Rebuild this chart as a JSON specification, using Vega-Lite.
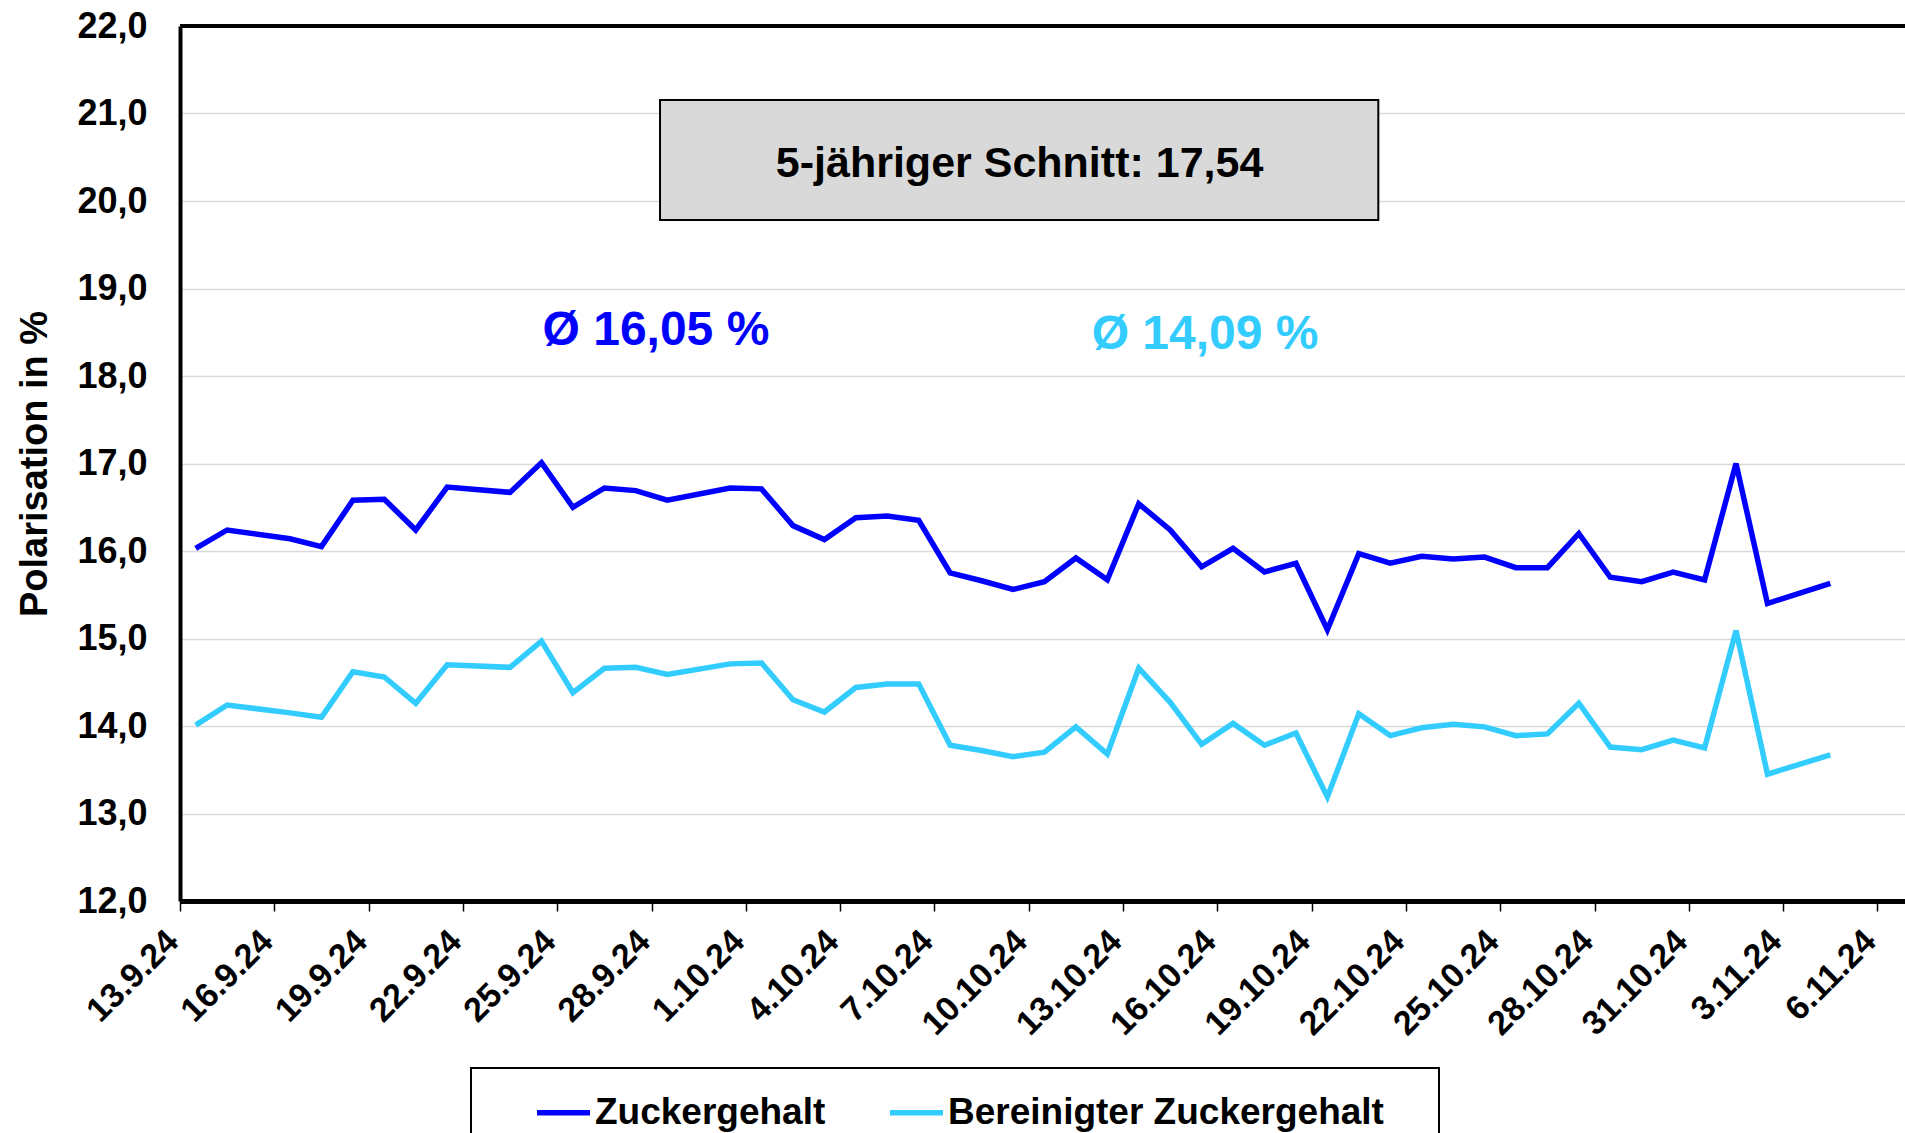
{
  "$schema": "https://vega.github.io/schema/vega-lite/v6.json",
  "autosize": {"type": "none"},
  "padding": {"left": 180, "top": 26, "right": 0, "bottom": 232},
  "width": 1725,
  "height": 875,
  "background": "white",
  "datasets": {
    "polarisation": [
      {"Datum": "2024-09-13", "Reihe": "Zuckergehalt", "Wert": 16.03},
      {"Datum": "2024-09-14", "Reihe": "Zuckergehalt", "Wert": 16.24},
      {"Datum": "2024-09-16", "Reihe": "Zuckergehalt", "Wert": 16.14},
      {"Datum": "2024-09-17", "Reihe": "Zuckergehalt", "Wert": 16.05},
      {"Datum": "2024-09-18", "Reihe": "Zuckergehalt", "Wert": 16.58},
      {"Datum": "2024-09-19", "Reihe": "Zuckergehalt", "Wert": 16.59},
      {"Datum": "2024-09-20", "Reihe": "Zuckergehalt", "Wert": 16.24},
      {"Datum": "2024-09-21", "Reihe": "Zuckergehalt", "Wert": 16.73},
      {"Datum": "2024-09-23", "Reihe": "Zuckergehalt", "Wert": 16.67},
      {"Datum": "2024-09-24", "Reihe": "Zuckergehalt", "Wert": 17.01},
      {"Datum": "2024-09-25", "Reihe": "Zuckergehalt", "Wert": 16.50},
      {"Datum": "2024-09-26", "Reihe": "Zuckergehalt", "Wert": 16.72},
      {"Datum": "2024-09-27", "Reihe": "Zuckergehalt", "Wert": 16.69},
      {"Datum": "2024-09-28", "Reihe": "Zuckergehalt", "Wert": 16.58},
      {"Datum": "2024-09-30", "Reihe": "Zuckergehalt", "Wert": 16.72},
      {"Datum": "2024-10-01", "Reihe": "Zuckergehalt", "Wert": 16.71},
      {"Datum": "2024-10-02", "Reihe": "Zuckergehalt", "Wert": 16.29},
      {"Datum": "2024-10-03", "Reihe": "Zuckergehalt", "Wert": 16.13},
      {"Datum": "2024-10-04", "Reihe": "Zuckergehalt", "Wert": 16.38},
      {"Datum": "2024-10-05", "Reihe": "Zuckergehalt", "Wert": 16.40},
      {"Datum": "2024-10-06", "Reihe": "Zuckergehalt", "Wert": 16.35},
      {"Datum": "2024-10-07", "Reihe": "Zuckergehalt", "Wert": 15.75},
      {"Datum": "2024-10-08", "Reihe": "Zuckergehalt", "Wert": 15.66},
      {"Datum": "2024-10-09", "Reihe": "Zuckergehalt", "Wert": 15.56},
      {"Datum": "2024-10-10", "Reihe": "Zuckergehalt", "Wert": 15.65},
      {"Datum": "2024-10-11", "Reihe": "Zuckergehalt", "Wert": 15.92},
      {"Datum": "2024-10-12", "Reihe": "Zuckergehalt", "Wert": 15.67},
      {"Datum": "2024-10-13", "Reihe": "Zuckergehalt", "Wert": 16.54},
      {"Datum": "2024-10-14", "Reihe": "Zuckergehalt", "Wert": 16.24},
      {"Datum": "2024-10-15", "Reihe": "Zuckergehalt", "Wert": 15.82},
      {"Datum": "2024-10-16", "Reihe": "Zuckergehalt", "Wert": 16.03},
      {"Datum": "2024-10-17", "Reihe": "Zuckergehalt", "Wert": 15.76},
      {"Datum": "2024-10-18", "Reihe": "Zuckergehalt", "Wert": 15.86},
      {"Datum": "2024-10-19", "Reihe": "Zuckergehalt", "Wert": 15.10},
      {"Datum": "2024-10-20", "Reihe": "Zuckergehalt", "Wert": 15.97},
      {"Datum": "2024-10-21", "Reihe": "Zuckergehalt", "Wert": 15.86},
      {"Datum": "2024-10-22", "Reihe": "Zuckergehalt", "Wert": 15.94},
      {"Datum": "2024-10-23", "Reihe": "Zuckergehalt", "Wert": 15.91},
      {"Datum": "2024-10-24", "Reihe": "Zuckergehalt", "Wert": 15.93},
      {"Datum": "2024-10-25", "Reihe": "Zuckergehalt", "Wert": 15.81},
      {"Datum": "2024-10-26", "Reihe": "Zuckergehalt", "Wert": 15.81},
      {"Datum": "2024-10-27", "Reihe": "Zuckergehalt", "Wert": 16.20},
      {"Datum": "2024-10-28", "Reihe": "Zuckergehalt", "Wert": 15.70},
      {"Datum": "2024-10-29", "Reihe": "Zuckergehalt", "Wert": 15.65},
      {"Datum": "2024-10-30", "Reihe": "Zuckergehalt", "Wert": 15.76},
      {"Datum": "2024-10-31", "Reihe": "Zuckergehalt", "Wert": 15.67},
      {"Datum": "2024-11-01", "Reihe": "Zuckergehalt", "Wert": 17.00},
      {"Datum": "2024-11-02", "Reihe": "Zuckergehalt", "Wert": 15.40},
      {"Datum": "2024-11-04", "Reihe": "Zuckergehalt", "Wert": 15.63},
      {"Datum": "2024-09-13", "Reihe": "Bereinigter Zuckergehalt", "Wert": 14.01},
      {"Datum": "2024-09-14", "Reihe": "Bereinigter Zuckergehalt", "Wert": 14.24},
      {"Datum": "2024-09-16", "Reihe": "Bereinigter Zuckergehalt", "Wert": 14.15},
      {"Datum": "2024-09-17", "Reihe": "Bereinigter Zuckergehalt", "Wert": 14.10},
      {"Datum": "2024-09-18", "Reihe": "Bereinigter Zuckergehalt", "Wert": 14.62},
      {"Datum": "2024-09-19", "Reihe": "Bereinigter Zuckergehalt", "Wert": 14.56},
      {"Datum": "2024-09-20", "Reihe": "Bereinigter Zuckergehalt", "Wert": 14.26},
      {"Datum": "2024-09-21", "Reihe": "Bereinigter Zuckergehalt", "Wert": 14.70},
      {"Datum": "2024-09-23", "Reihe": "Bereinigter Zuckergehalt", "Wert": 14.67},
      {"Datum": "2024-09-24", "Reihe": "Bereinigter Zuckergehalt", "Wert": 14.97},
      {"Datum": "2024-09-25", "Reihe": "Bereinigter Zuckergehalt", "Wert": 14.38},
      {"Datum": "2024-09-26", "Reihe": "Bereinigter Zuckergehalt", "Wert": 14.66},
      {"Datum": "2024-09-27", "Reihe": "Bereinigter Zuckergehalt", "Wert": 14.67},
      {"Datum": "2024-09-28", "Reihe": "Bereinigter Zuckergehalt", "Wert": 14.59},
      {"Datum": "2024-09-30", "Reihe": "Bereinigter Zuckergehalt", "Wert": 14.71},
      {"Datum": "2024-10-01", "Reihe": "Bereinigter Zuckergehalt", "Wert": 14.72},
      {"Datum": "2024-10-02", "Reihe": "Bereinigter Zuckergehalt", "Wert": 14.30},
      {"Datum": "2024-10-03", "Reihe": "Bereinigter Zuckergehalt", "Wert": 14.16},
      {"Datum": "2024-10-04", "Reihe": "Bereinigter Zuckergehalt", "Wert": 14.44},
      {"Datum": "2024-10-05", "Reihe": "Bereinigter Zuckergehalt", "Wert": 14.48},
      {"Datum": "2024-10-06", "Reihe": "Bereinigter Zuckergehalt", "Wert": 14.48},
      {"Datum": "2024-10-07", "Reihe": "Bereinigter Zuckergehalt", "Wert": 13.78},
      {"Datum": "2024-10-08", "Reihe": "Bereinigter Zuckergehalt", "Wert": 13.72},
      {"Datum": "2024-10-09", "Reihe": "Bereinigter Zuckergehalt", "Wert": 13.65},
      {"Datum": "2024-10-10", "Reihe": "Bereinigter Zuckergehalt", "Wert": 13.70},
      {"Datum": "2024-10-11", "Reihe": "Bereinigter Zuckergehalt", "Wert": 13.99},
      {"Datum": "2024-10-12", "Reihe": "Bereinigter Zuckergehalt", "Wert": 13.68},
      {"Datum": "2024-10-13", "Reihe": "Bereinigter Zuckergehalt", "Wert": 14.66},
      {"Datum": "2024-10-14", "Reihe": "Bereinigter Zuckergehalt", "Wert": 14.27},
      {"Datum": "2024-10-15", "Reihe": "Bereinigter Zuckergehalt", "Wert": 13.79},
      {"Datum": "2024-10-16", "Reihe": "Bereinigter Zuckergehalt", "Wert": 14.03},
      {"Datum": "2024-10-17", "Reihe": "Bereinigter Zuckergehalt", "Wert": 13.78},
      {"Datum": "2024-10-18", "Reihe": "Bereinigter Zuckergehalt", "Wert": 13.92},
      {"Datum": "2024-10-19", "Reihe": "Bereinigter Zuckergehalt", "Wert": 13.19},
      {"Datum": "2024-10-20", "Reihe": "Bereinigter Zuckergehalt", "Wert": 14.14},
      {"Datum": "2024-10-21", "Reihe": "Bereinigter Zuckergehalt", "Wert": 13.89},
      {"Datum": "2024-10-22", "Reihe": "Bereinigter Zuckergehalt", "Wert": 13.98},
      {"Datum": "2024-10-23", "Reihe": "Bereinigter Zuckergehalt", "Wert": 14.02},
      {"Datum": "2024-10-24", "Reihe": "Bereinigter Zuckergehalt", "Wert": 13.99},
      {"Datum": "2024-10-25", "Reihe": "Bereinigter Zuckergehalt", "Wert": 13.89},
      {"Datum": "2024-10-26", "Reihe": "Bereinigter Zuckergehalt", "Wert": 13.91},
      {"Datum": "2024-10-27", "Reihe": "Bereinigter Zuckergehalt", "Wert": 14.26},
      {"Datum": "2024-10-28", "Reihe": "Bereinigter Zuckergehalt", "Wert": 13.76},
      {"Datum": "2024-10-29", "Reihe": "Bereinigter Zuckergehalt", "Wert": 13.73},
      {"Datum": "2024-10-30", "Reihe": "Bereinigter Zuckergehalt", "Wert": 13.84},
      {"Datum": "2024-10-31", "Reihe": "Bereinigter Zuckergehalt", "Wert": 13.75},
      {"Datum": "2024-11-01", "Reihe": "Bereinigter Zuckergehalt", "Wert": 15.09},
      {"Datum": "2024-11-02", "Reihe": "Bereinigter Zuckergehalt", "Wert": 13.45},
      {"Datum": "2024-11-04", "Reihe": "Bereinigter Zuckergehalt", "Wert": 13.67}
    ],
    "einzeln": [{}]
  },
  "layer": [
    {
      "data": {"name": "polarisation"},
      "mark": {"type": "line", "strokeWidth": 5.5, "xOffset": 15.7, "clip": false},
      "encoding": {
        "x": {
          "field": "Datum",
          "type": "temporal",
          "title": null,
          "scale": {
            "type": "utc",
            "domain": [
              {"year": 2024, "month": 9, "date": 13, "utc": true},
              {"year": 2024, "month": 11, "date": 6, "hours": 21, "utc": true}
            ]
          },
          "axis": {
            "format": "%-d.%-m.%y",
            "values": [
              {"year": 2024, "month": 9, "date": 13, "utc": true},
              {"year": 2024, "month": 9, "date": 16, "utc": true},
              {"year": 2024, "month": 9, "date": 19, "utc": true},
              {"year": 2024, "month": 9, "date": 22, "utc": true},
              {"year": 2024, "month": 9, "date": 25, "utc": true},
              {"year": 2024, "month": 9, "date": 28, "utc": true},
              {"year": 2024, "month": 10, "date": 1, "utc": true},
              {"year": 2024, "month": 10, "date": 4, "utc": true},
              {"year": 2024, "month": 10, "date": 7, "utc": true},
              {"year": 2024, "month": 10, "date": 10, "utc": true},
              {"year": 2024, "month": 10, "date": 13, "utc": true},
              {"year": 2024, "month": 10, "date": 16, "utc": true},
              {"year": 2024, "month": 10, "date": 19, "utc": true},
              {"year": 2024, "month": 10, "date": 22, "utc": true},
              {"year": 2024, "month": 10, "date": 25, "utc": true},
              {"year": 2024, "month": 10, "date": 28, "utc": true},
              {"year": 2024, "month": 10, "date": 31, "utc": true},
              {"year": 2024, "month": 11, "date": 3, "utc": true},
              {"year": 2024, "month": 11, "date": 6, "utc": true}
            ]
          }
        },
        "y": {
          "field": "Wert",
          "type": "quantitative",
          "title": "Polarisation in %",
          "scale": {"domain": [12, 22], "nice": false, "zero": false},
          "axis": {"values": [12, 13, 14, 15, 16, 17, 18, 19, 20, 21, 22]}
        },
        "color": {
          "field": "Reihe",
          "type": "nominal",
          "sort": ["Zuckergehalt", "Bereinigter Zuckergehalt"],
          "scale": {"domain": ["Zuckergehalt", "Bereinigter Zuckergehalt"], "range": ["#0000FF", "#33CCFF"]},
          "legend": {
            "orient": "none",
            "legendX": 291,
            "legendY": 1042,
            "direction": "horizontal",
            "title": " ",
            "titleOrient": "right",
            "titlePadding": 40,
            "titleFontSize": 2,
            "strokeColor": "black",
            "fillColor": "white",
            "padding": 15,
            "symbolType": "stroke",
            "symbolSize": 2809,
            "symbolStrokeWidth": 5.5,
            "symbolOffset": 48,
            "labelFont": "Liberation Sans",
            "labelFontSize": 37,
            "labelFontWeight": "bold",
            "labelColor": "black",
            "labelOffset": 2,
            "labelLimit": 0,
            "columnPadding": 13
          }
        }
      }
    },
    {
      "data": {"name": "einzeln"},
      "mark": {"type": "rect", "fill": "#d9d9d9", "stroke": "black", "strokeWidth": 2},
      "encoding": {
        "x": {"datum": {"year": 2024, "month": 9, "date": 28, "hours": 6, "minutes": 29, "utc": true}, "type": "temporal"},
        "x2": {"datum": {"year": 2024, "month": 10, "date": 21, "hours": 2, "minutes": 53, "utc": true}},
        "y": {"datum": 21.154, "type": "quantitative"},
        "y2": {"datum": 19.783}
      }
    },
    {
      "data": {"name": "einzeln"},
      "mark": {"type": "text", "text": "5-jähriger Schnitt: 17,54", "font": "Liberation Sans", "fontSize": 43, "fontWeight": "bold", "color": "black", "align": "center", "baseline": "alphabetic"},
      "encoding": {
        "x": {"datum": {"year": 2024, "month": 10, "date": 9, "hours": 17, "utc": true}, "type": "temporal"},
        "y": {"datum": 20.27, "type": "quantitative"}
      }
    },
    {
      "data": {"name": "einzeln"},
      "mark": {"type": "text", "text": "Ø 16,05 %", "font": "Liberation Sans", "fontSize": 48, "fontWeight": "bold", "color": "#0000FF", "align": "center", "baseline": "alphabetic"},
      "encoding": {
        "x": {"datum": {"year": 2024, "month": 9, "date": 28, "hours": 3, "minutes": 22, "utc": true}, "type": "temporal"},
        "y": {"datum": 18.354, "type": "quantitative"}
      }
    },
    {
      "data": {"name": "einzeln"},
      "mark": {"type": "text", "text": "Ø 14,09 %", "font": "Liberation Sans", "fontSize": 48, "fontWeight": "bold", "color": "#33CCFF", "align": "center", "baseline": "alphabetic"},
      "encoding": {
        "x": {"datum": {"year": 2024, "month": 10, "date": 15, "hours": 14, "minutes": 38, "utc": true}, "type": "temporal"},
        "y": {"datum": 18.31, "type": "quantitative"}
      }
    },
    {
      "data": {"name": "einzeln"},
      "mark": {"type": "rule", "color": "black", "strokeWidth": 4},
      "encoding": {
        "y": {"datum": 22, "type": "quantitative"}
      }
    }
  ],
  "config": {
    "view": {"stroke": null},
    "font": "Liberation Sans",
    "legend": {"strokeWidth": 2},
    "axis": {
      "labelFont": "Liberation Sans",
      "titleFont": "Liberation Sans",
      "labelFontWeight": "bold",
      "titleFontWeight": "bold",
      "labelColor": "black",
      "titleColor": "black",
      "domainColor": "black",
      "tickColor": "black"
    },
    "axisY": {
      "grid": true,
      "gridColor": "#d9d9d9",
      "gridWidth": 1.5,
      "domainWidth": 4,
      "ticks": false,
      "labelFontSize": 36,
      "labelPadding": 33,
      "labelExpr": "replace(format(datum.value, '.1f'), '.', ',')",
      "titleFontSize": 38,
      "titlePadding": 22
    },
    "axisX": {
      "grid": false,
      "domainWidth": 5,
      "tickSize": 10,
      "tickWidth": 1.5,
      "labelFontSize": 34,
      "labelAngle": -45,
      "labelPadding": 32,
      "labelAlign": "right",
      "labelBaseline": "alphabetic",
      "labelOverlap": false,
      "labelFlush": false,
      "labelBound": false
    }
  }
}
